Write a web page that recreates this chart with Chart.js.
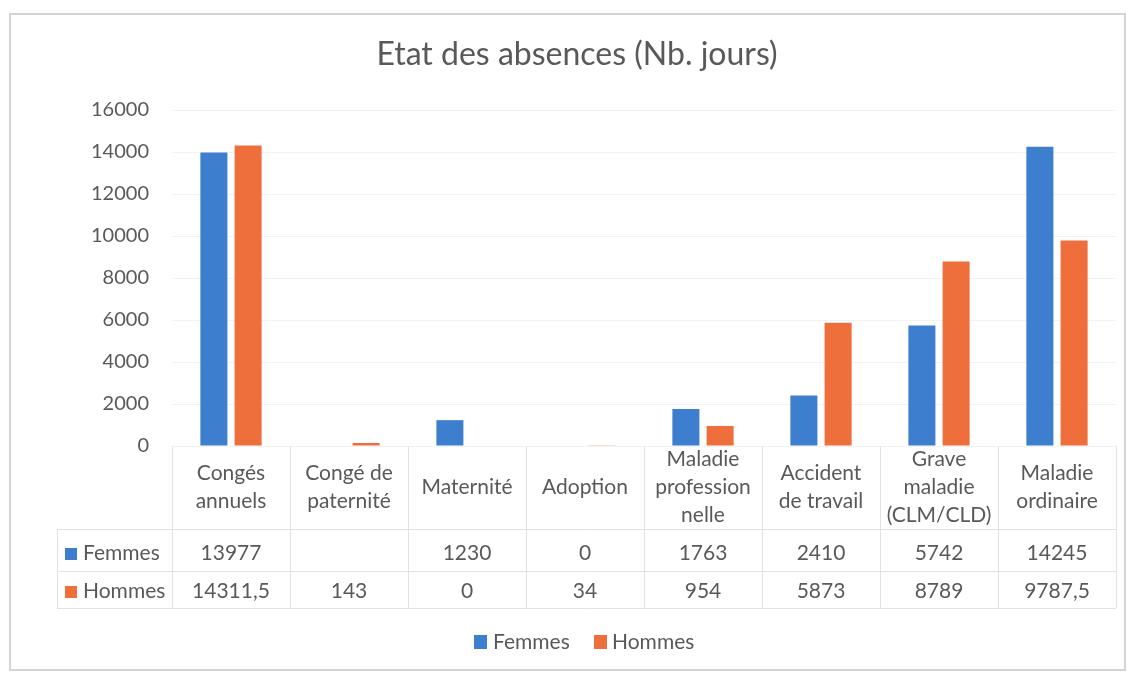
<!DOCTYPE html>
<html>
<head>
<meta charset="utf-8">
<script src="https://cdn.jsdelivr.net/npm/chart.js@4"></script>
<style>
  html, body { margin: 0; padding: 0; background: #fff; }
  #wrap { width: 1133px; height: 677px; }
</style>
</head>
<body>
<div id="wrap"><canvas id="mycanvas" width="1133" height="677"></canvas></div>
<script>
var titleText = "Etat des absences (Nb. jours)";
var categories = [
  ["Congés", "annuels"],
  ["Congé de", "paternité"],
  ["Maternité"],
  ["Adoption"],
  ["Maladie", "profession", "nelle"],
  ["Accident", "de travail"],
  ["Grave", "maladie", "(CLM/CLD)"],
  ["Maladie", "ordinaire"]
];
var seriesNames = ["Femmes", "Hommes"];
var femmes = [13977, null, 1230, 0, 1763, 2410, 5742, 14245];
var hommes = [14311.5, 143, 0, 34, 954, 5873, 8789, 9787.5];
var yTickValues = [0, 2000, 4000, 6000, 8000, 10000, 12000, 14000, 16000];

var blue = "#3e7ecf";
var orange = "#ef6f3c";
var textCol = "#595959";
var lineCol = "#e2e2e2";
var fontFam = "Lato, 'Open Sans', sans-serif";

function fmt(v) {
  if (v === null || v === undefined) return "";
  return String(v).replace(".", ",");
}

// draws title, frame, the data table under the axis and the legend
var tablePlugin = {
  id: "tablePlugin",
  beforeDraw: function(chart) {
    var c = chart.ctx;
    c.save();
    c.fillStyle = "#fff";
    c.fillRect(0, 0, chart.width, chart.height);
    c.strokeStyle = "#d4d4d4";
    c.lineWidth = 2;
    c.strokeRect(10, 14, 1115, 656);
    c.restore();
  },
  afterDraw: function(chart) {
    var c = chart.ctx;
    var x = chart.scales.x;
    var area = chart.chartArea;
    var n = categories.length;
    var colW = (area.right - area.left) / n;
    var top = area.bottom;
    var rowTop = 529, rowMid = 571, rowBot = 608, left = 57;

    c.save();
    // title
    c.fillStyle = textCol;
    c.font = "32px " + fontFam;
    c.textAlign = "center";
    c.textBaseline = "middle";
    c.fillText(titleText, 577, 55);

    // grid of the table
    c.strokeStyle = lineCol;
    c.lineWidth = 1;
    c.beginPath();
    for (var i = 0; i <= n; i++) {
      var gx = Math.round(area.left + i * colW) + 0.5;
      c.moveTo(gx, top);
      c.lineTo(gx, rowBot);
    }
    c.moveTo(left + 0.5, rowTop);
    c.lineTo(left + 0.5, rowBot);
    [rowTop, rowMid, rowBot].forEach(function(yy) {
      c.moveTo(left, yy + 0.5);
      c.lineTo(area.right, yy + 0.5);
    });
    c.stroke();

    // category labels and values
    c.font = "21px " + fontFam;
    c.fillStyle = textCol;
    for (var j = 0; j < n; j++) {
      var cx = x.getPixelForValue(j);
      var lines = categories[j];
      var lh = 28;
      var y0 = 487 - (lines.length - 1) * lh / 2;
      for (var k = 0; k < lines.length; k++) {
        c.fillText(lines[k], cx, y0 + k * lh);
      }
      c.fillText(fmt(femmes[j]), cx, 553);
      c.fillText(fmt(hommes[j]), cx, 591);
    }

    // row headers
    c.textAlign = "left";
    c.fillStyle = blue;
    c.fillRect(65, 548, 12, 12);
    c.fillStyle = orange;
    c.fillRect(65, 586, 12, 12);
    c.fillStyle = textCol;
    c.fillText(seriesNames[0], 83, 553);
    c.fillText(seriesNames[1], 83, 591);

    // legend
    c.fillStyle = blue;
    c.fillRect(474, 635, 13, 14);
    c.fillStyle = orange;
    c.fillRect(594, 635, 13, 14);
    c.fillStyle = textCol;
    c.fillText(seriesNames[0], 493, 642);
    c.fillText(seriesNames[1], 612, 642);
    c.restore();
  }
};

var chartdata = {
  labels: categories,
  datasets: [
    {
      label: seriesNames[0],
      backgroundColor: blue,
      data: femmes,
      categoryPercentage: 0.58,
      barPercentage: 0.79
    },
    {
      label: seriesNames[1],
      backgroundColor: orange,
      data: hommes,
      categoryPercentage: 0.58,
      barPercentage: 0.79
    }
  ]
};

var ctx = document.getElementById("mycanvas");
var BarGraph = new Chart(ctx, {
  type: "bar",
  data: chartdata,
  plugins: [tablePlugin],
  options: {
    responsive: false,
    animation: false,
    layout: { padding: { top: 110, right: 17, left: 0, bottom: 0 } },
    plugins: {
      legend: { display: false },
      title: { display: false },
      tooltip: { enabled: false }
    },
    scales: {
      x: {
        grid: { display: false },
        border: { display: false },
        ticks: { display: false },
        afterFit: function(s) { s.height = 231; }
      },
      y: {
        min: 0,
        max: 16000,
        afterBuildTicks: function(s) {
          s.ticks = yTickValues.map(function(v) { return { value: v }; });
        },
        afterFit: function(s) { s.width = 172; },
        grid: { color: "#f2f2f2", drawTicks: false },
        border: { display: false },
        ticks: {
          padding: 23,
          color: textCol,
          font: { family: fontFam, size: 20 },
          callback: function(v) { return String(v); }
        }
      }
    }
  }
});
</script>
</body>
</html>
